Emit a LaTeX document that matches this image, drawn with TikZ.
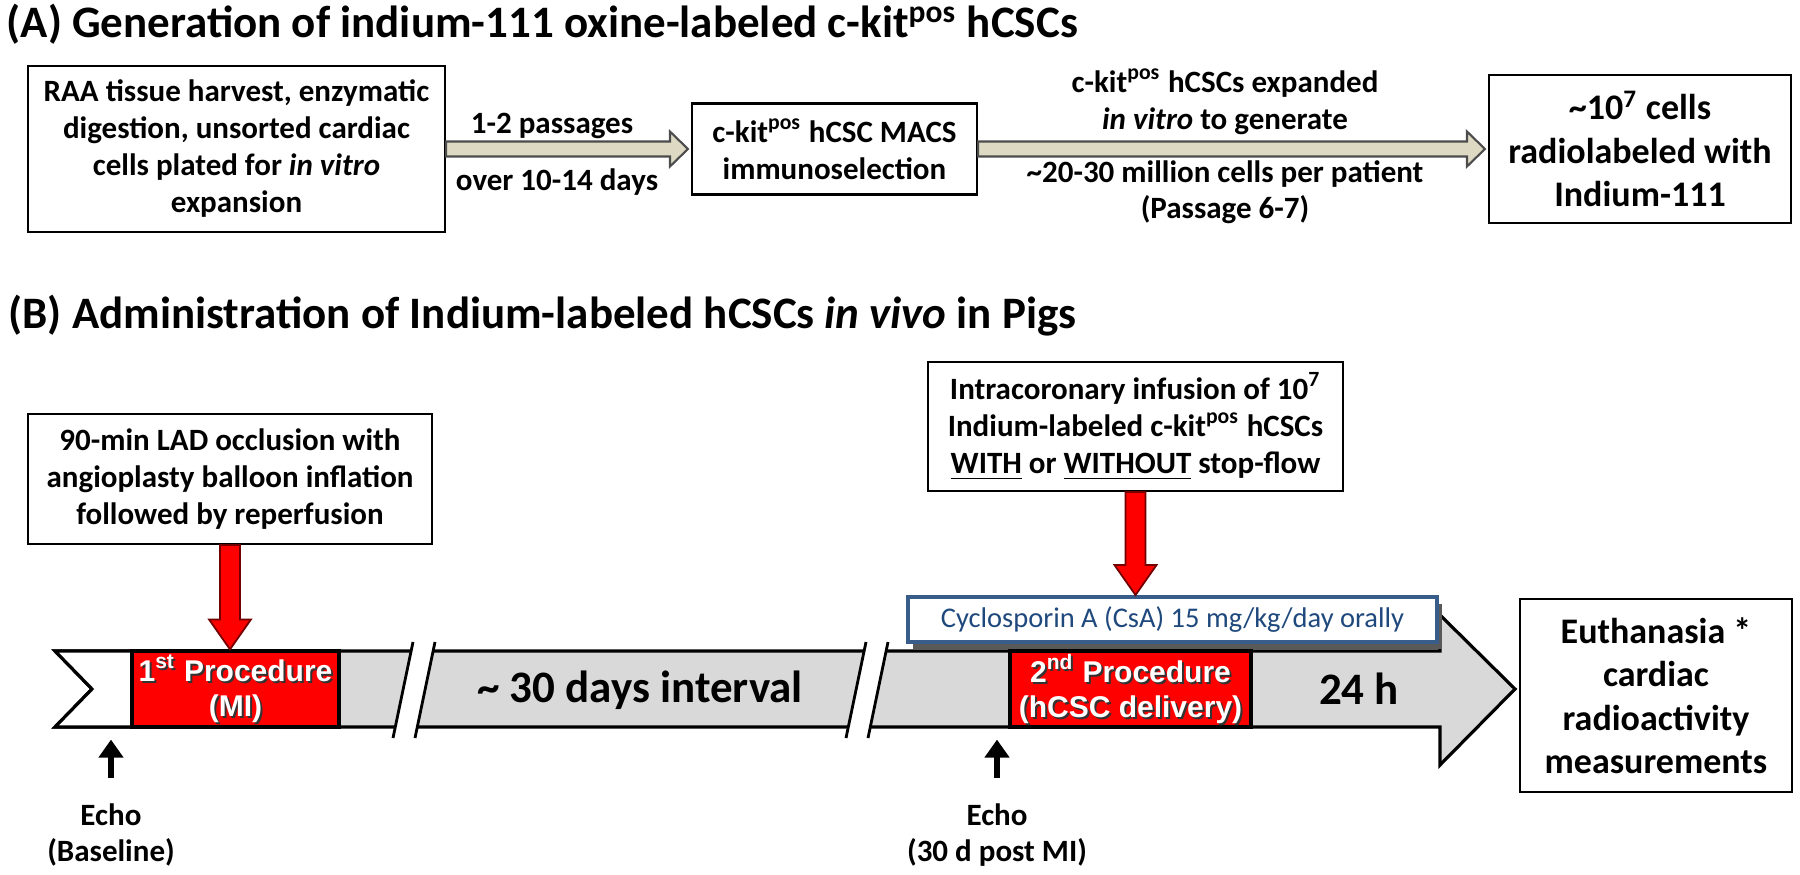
\documentclass[tikz,border=0pt]{standalone}
\usepackage{fontspec}
\setmainfont{Carlito}
\newfontfamily\arialfont{Liberation Sans}
\usetikzlibrary{calc,arrows.meta}
\definecolor{barGrey}{HTML}{D9D9D9}
\definecolor{khaki}{HTML}{DDD9C3}
\definecolor{csaBlue}{HTML}{385D8A}
\definecolor{csaText}{HTML}{1F497D}
\def\hblockarrow[#1](#2)(#3){\draw[#1] let \p1=(#2), \p2=($(#3)+(-3,0)$) in (\x1,\y1+0.75mm) -- (\x2-1.8mm,\y1+0.75mm) -- (\x2-1.8mm,\y1+1.75mm) -- (\x2,\y1) -- (\x2-1.8mm,\y1-1.75mm) -- (\x2-1.8mm,\y1-0.75mm) -- (\x1,\y1-0.75mm) -- cycle;}
\def\vblockarrow[#1](#2)(#3){\draw[#1] let \p1=(#2), \p2=(#3) in (\x1-1mm,\y1) -- (\x1-1mm,\y2+3mm) -- (\x1-2.1mm,\y2+3mm) -- (\x1,\y2) -- (\x1+2.1mm,\y2+3mm) -- (\x1+1mm,\y2+3mm) -- (\x1+1mm,\y1) -- cycle;}
\def\barbreak#1{\fill[white] (#1,642) -- (#1+22,642) -- (#1+2,738) -- (#1-20,738) -- cycle;
	\draw[line width=0.8pt] (#1,642) -- (#1-20,738) (#1+22,642) -- (#1+2,738);}

\begin{document}
\begin{tikzpicture}[x=0.1mm,y=-0.1mm,
		title/.style={inner sep=0pt, font=\bfseries\fontsize{4.5mm}{5.4mm}\selectfont},
		box/.style={draw=black, line width=0.6pt, fill=white, align=center, inner sep=0pt, font=\bfseries\fontsize{3.1mm}{3.7mm}\selectfont},
		bigbox/.style={box, font=\bfseries\fontsize{3.6mm}{4.35mm}\selectfont},
		note/.style={align=center, inner sep=0pt, font=\bfseries\fontsize{3.1mm}{3.65mm}\selectfont},
		bigtext/.style={inner sep=0pt, font=\bfseries\fontsize{4.5mm}{5.4mm}\selectfont},
		khakiarrow/.style={fill=khaki, draw=black!70, line width=0.6pt},
		redarrow/.style={fill=red, draw=red!45!black, line width=0.5pt},
		timebar/.style={fill=barGrey, draw=black, line width=0.9pt},
		proc/.style={fill=red, draw=black, line width=0.9pt, minimum height=7.6mm, inner sep=0pt},
		proctext/.style={align=center, inner sep=0pt, font=\arialfont\bfseries\fontsize{3mm}{3.5mm}\selectfont},
		csa/.style={draw=csaBlue, fill=white, line width=1.1pt, text=csaText, inner sep=0pt, minimum width=52.9mm, minimum height=4.5mm, font=\fontsize{2.85mm}{3.4mm}\selectfont},
		echoarrow/.style={line width=0.6mm, -{Triangle[length=1.8mm,width=2.4mm]}, shorten <=2.5mm, shorten >=1.1mm}]
	%%%%% START %%%%%
	\useasboundingbox (0,0) rectangle (1800,874);
	
	% (A) in vitro
	\node[title, anchor=base west] (titA) at (6,38) {(A) Generation of indium-111 oxine-labeled c-kit\textsuperscript{pos} hCSCs};
	
	\node[box, minimum width=41.7mm, minimum height=16.6mm] (harvest) at (236.5,149) {RAA tissue harvest, enzymatic\\digestion, unsorted cardiac\\cells plated for \textit{in vitro}\\expansion};
	\node[box, minimum width=28.5mm, minimum height=9.1mm] (macs) at (834.5,149) {c-kit\textsuperscript{pos} hCSC MACS\\immunoselection};
	\node[bigbox, minimum width=30.2mm, minimum height=14.8mm] (labeling) at (1640,149) {\textasciitilde10\textsuperscript{7} cells\\radiolabeled with\\Indium-111};
	
	\hblockarrow[khakiarrow](harvest.east)(macs.west);
	\hblockarrow[khakiarrow](macs.east)(labeling.west);
	
	\node[note] (pass1) at (552,126) {1-2 passages};
	\node[note] (pass2) at (557,182) {over 10-14 days};
	\node[note] (expand1) at (1225,101.5) {c-kit\textsuperscript{pos} hCSCs expanded\\\textit{in vitro} to generate};
	\node[note] (expand2) at (1225,192) {\textasciitilde20-30 million cells per patient\\(Passage 6-7)};
	
	% (B) in vivo
	\node[title, anchor=base west] (titB) at (8,328) {(B) Administration of Indium-labeled hCSCs \textit{in vivo} in Pigs};
	
	\node[box, minimum width=40.4mm, minimum height=13mm] (lad) at (230,479) {90-min LAD occlusion with\\angioplasty balloon inflation\\followed by reperfusion};
	\node[box, minimum width=41.5mm, minimum height=12.9mm] (infuse) at (1135.5,426.5) {Intracoronary infusion of 10\textsuperscript{7}\\Indium-labeled c-kit\textsuperscript{pos} hCSCs\\\underline{WITH} or \underline{WITHOUT} stop-flow};
	
	% timeline
	\draw[timebar] (55,651) -- (1440,651) -- (1440,615) -- (1515,689) -- (1440,765) -- (1440,727) -- (55,727) -- (92,689) -- cycle;
	\draw[timebar, fill=white] (55,651) -- (132,651) -- (132,727) -- (55,727) -- (92,689) -- cycle;
	\barbreak{413}
	\barbreak{866}
	
	\node[proc, minimum width=20.7mm] (proc1) at (235.5,689) {};
	\node[proctext, black!80] (proc1s) at ($(proc1)+(2,2)$) {1\textsuperscript{st} Procedure\\(MI)};
	\node[proctext, white] (proc1t) at (proc1) {1\textsuperscript{st} Procedure\\(MI)};
	\node[proc, minimum width=24.1mm] (proc2) at (1130.5,689) {};
	\node[proctext, black!80] (proc2s) at ($(proc2)+(2,2)$) {2\textsuperscript{nd} Procedure\\(hCSC delivery)};
	\node[proctext, white] (proc2t) at (proc2) {2\textsuperscript{nd} Procedure\\(hCSC delivery)};
	
	\node[bigtext] (interval) at (640,690) {\textasciitilde{} 30 days interval};
	\node[bigtext] (hours) at (1359,689) {24 h};
	
	\fill[black!65] (913,604) rectangle (1442,649);
	\node[csa] (csa) at (1172.5,619.5) {Cyclosporin A (CsA) 15 mg/kg/day orally};
	
	\vblockarrow[redarrow](lad.south)(proc1.north);
	\vblockarrow[redarrow](infuse.south)(csa.north);
	
	\node[bigbox, minimum width=27.2mm, minimum height=19.3mm] (euth) at (1656,695.5) {Euthanasia *\\cardiac\\radioactivity\\measurements};
	
	\node[note] (echoA) at (111,835) {Echo\\(Baseline)};
	\node[note] (echoB) at (997,835) {Echo\\(30 d post MI)};
	\draw[echoarrow] (echoA.north) -- (echoA.north |- proc1.south);
	\draw[echoarrow] (echoB.north) -- (echoB.north |- proc2.south);
	
	%%%%% END %%%%%
\end{tikzpicture}
\end{document}
